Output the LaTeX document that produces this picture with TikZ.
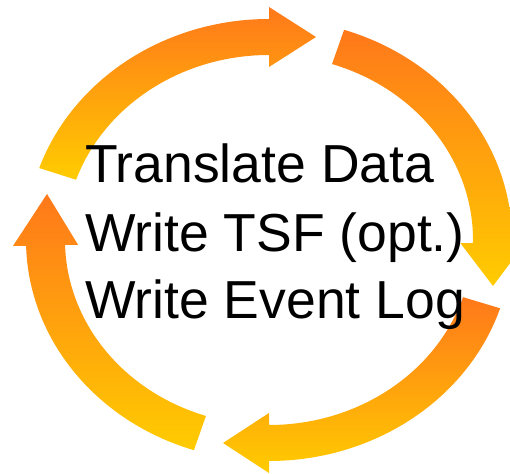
\documentclass[tikz,border=0pt]{standalone}
\usepackage{fontspec}
\setmainfont{Liberation Sans}
\usetikzlibrary{calc}
\definecolor{arrOrange}{RGB}{255,120,26}
\definecolor{arrYellow}{RGB}{255,204,0}
\tikzset{
  cyclearrow/.style={top color=arrOrange, bottom color=arrYellow, draw=none},
  label/.style={inner sep=0pt, anchor=base west, font=\fontsize{53.5pt}{68pt}\selectfont, text=black}
}
\begin{document}
\begin{tikzpicture}[x=1pt,y=1pt]
\useasboundingbox (0,0) rectangle (510,473);
\clip (0,0) rectangle (510,473);
\begin{scope}[shift={(269,233)}]
% top arrow
\shade[cyclearrow] (161:243 and 221) arc[start angle=161, end angle=90, x radius=243, y radius=221]
  -- (0,233) -- (47,203) -- (0,173) -- (90:204 and 185)
  arc[start angle=90, end angle=161, x radius=204, y radius=185] -- cycle;
% right arrow
\shade[cyclearrow] (72:243 and 221) arc[start angle=72, end angle=-1, x radius=243, y radius=221]
  -- ++(12.5,0) -- (224,-46) -- ($(-1:204 and 185)+(-12.5,0)$) -- (-1:204 and 185)
  arc[start angle=-1, end angle=72, x radius=204, y radius=185] -- cycle;
% bottom arrow
\shade[cyclearrow] (-18:243 and 221) arc[start angle=-18, end angle=-90, x radius=243, y radius=221]
  -- (0,-233) -- (-46,-203) -- (0,-173) -- (-90:204 and 185)
  arc[start angle=-90, end angle=-18, x radius=204, y radius=185] -- cycle;
% left arrow
\shade[cyclearrow] (252:243 and 221) arc[start angle=252, end angle=181.5, x radius=243, y radius=221]
  -- ++(-13,0) -- (-222,46) -- ($(181.5:204 and 185)+(13,0)$) -- (181.5:204 and 185)
  arc[start angle=181.5, end angle=252, x radius=204, y radius=185] -- cycle;
\end{scope}
\node[label] (l1) at (85,290) {Translate Data};
\node[label] (l2) at (85,221.5) {Write TSF (opt.)};
\node[label] (l3) at (85,154) {Write Event Log};
\end{tikzpicture}
\end{document}
